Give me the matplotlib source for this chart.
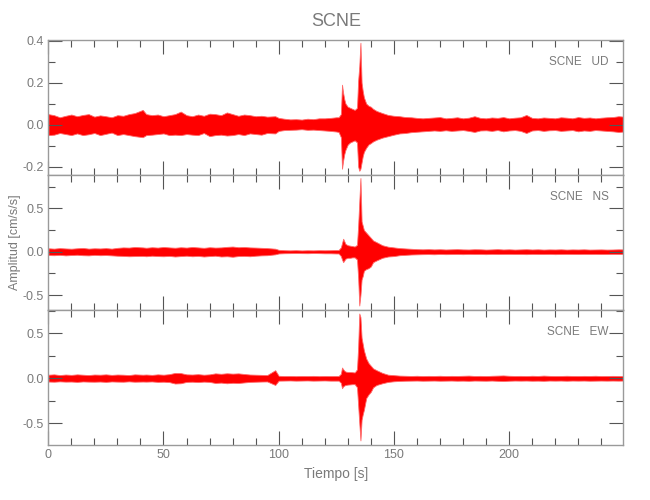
import matplotlib
matplotlib.use("Agg")
import matplotlib.pyplot as plt
from matplotlib.ticker import MultipleLocator, FormatStrFormatter

plt.rcParams['font.family'] = ['Liberation Sans Narrow', 'Liberation Sans', 'DejaVu Sans']

# ---- data: time knots (s) and trace envelopes (cm/s/s) ----
time_s = [0, 2.5, 5, 7.5, 10, 12.5, 15, 17.5, 20, 22.5,
          25, 27.5, 30, 32.5, 35, 37.5, 41, 42.5, 45, 47.5,
          50, 52.5, 55, 57.5, 60, 62.5, 65, 67.5, 70, 72.5,
          75, 77.5, 80, 82.5, 85, 87.5, 90, 92.5, 95, 98.5,
          100, 102.5, 105, 107.5, 110, 112.5, 115, 117.5, 120, 122.5,
          125,
          126, 127, 127.5, 128, 128.5, 129, 130, 131, 132, 133, 134, 134.5,
          135, 135.5, 136, 136.5, 137, 138, 139, 140, 141, 142.5, 145, 147.5,
          150, 152.5, 155, 157.5, 160, 162.5, 165, 167.5, 170, 172.5,
          175, 177.5, 180, 182.5, 185, 187.5, 190, 192.5, 195, 197.5,
          200, 202.5, 205, 207.5, 210, 212.5, 215, 217.5, 220, 222.5,
          225, 227.5, 230, 232.5, 235, 237.5, 240, 242.5, 245, 247.5,
          250]

ud_upper = [0.050, 0.045, 0.035, 0.042, 0.048, 0.040, 0.046, 0.050, 0.038, 0.044,
            0.040, 0.035, 0.045, 0.042, 0.050, 0.055, 0.070, 0.050, 0.045, 0.048,
            0.040, 0.045, 0.050, 0.062, 0.045, 0.040, 0.048, 0.042, 0.052, 0.050,
            0.045, 0.058, 0.050, 0.042, 0.048, 0.045, 0.040, 0.042, 0.038, 0.040,
            0.032, 0.028, 0.025, 0.026, 0.024, 0.028, 0.026, 0.030, 0.030, 0.032,
            0.035,
            0.035, 0.050, 0.190, 0.150, 0.120, 0.100, 0.085, 0.080, 0.075, 0.070, 0.080, 0.210,
            0.280, 0.390, 0.200, 0.160, 0.130, 0.100, 0.090, 0.085, 0.075, 0.065, 0.055, 0.046,
            0.042, 0.040, 0.036, 0.035, 0.032, 0.030, 0.032, 0.034, 0.036, 0.030,
            0.032, 0.035, 0.030, 0.033, 0.040, 0.032, 0.030, 0.034, 0.032, 0.036,
            0.030, 0.033, 0.035, 0.046, 0.032, 0.030, 0.034, 0.032, 0.030, 0.035,
            0.033, 0.030, 0.036, 0.032, 0.034, 0.030, 0.033, 0.035, 0.036, 0.040,
            0.038]
ud_lower = [-0.050, -0.048, -0.040, -0.045, -0.050, -0.042, -0.050, -0.046, -0.040, -0.050,
            -0.044, -0.038, -0.050, -0.045, -0.050, -0.055, -0.060, -0.050, -0.048, -0.045,
            -0.042, -0.050, -0.048, -0.050, -0.045, -0.048, -0.050, -0.040, -0.055, -0.050,
            -0.048, -0.052, -0.050, -0.045, -0.050, -0.042, -0.045, -0.048, -0.040, -0.042,
            -0.030, -0.026, -0.025, -0.024, -0.022, -0.025, -0.024, -0.026, -0.028, -0.030,
            -0.033,
            -0.035, -0.060, -0.210, -0.170, -0.140, -0.120, -0.095, -0.085, -0.080, -0.075, -0.085, -0.200,
            -0.220, -0.210, -0.180, -0.150, -0.130, -0.110, -0.095, -0.088, -0.080, -0.072, -0.062, -0.055,
            -0.048, -0.042, -0.040, -0.036, -0.034, -0.032, -0.030, -0.028, -0.030, -0.027,
            -0.030, -0.028, -0.026, -0.030, -0.035, -0.028, -0.027, -0.030, -0.026, -0.032,
            -0.028, -0.026, -0.030, -0.040, -0.028, -0.026, -0.030, -0.027, -0.026, -0.030,
            -0.028, -0.026, -0.032, -0.028, -0.030, -0.026, -0.028, -0.030, -0.032, -0.035,
            -0.033]

ns_upper = [0.040, 0.036, 0.042, 0.038, 0.035, 0.040, 0.044, 0.036, 0.040, 0.038,
            0.042, 0.036, 0.045, 0.050, 0.048, 0.055, 0.050, 0.046, 0.052, 0.048,
            0.055, 0.050, 0.046, 0.052, 0.048, 0.055, 0.050, 0.045, 0.052, 0.048,
            0.050, 0.056, 0.060, 0.052, 0.055, 0.050, 0.048, 0.045, 0.042, 0.035,
            0.022, 0.018, 0.016, 0.018, 0.015, 0.017, 0.016, 0.018, 0.017, 0.018,
            0.020,
            0.020, 0.050, 0.100, 0.150, 0.120, 0.090, 0.075, 0.070, 0.065, 0.060, 0.080, 0.300,
            0.580, 0.850, 0.350, 0.300, 0.250, 0.220, 0.190, 0.160, 0.130, 0.110, 0.075, 0.058,
            0.050, 0.042, 0.038, 0.034, 0.030, 0.028, 0.030, 0.027, 0.029, 0.026,
            0.028, 0.030, 0.027, 0.026, 0.029, 0.028, 0.025, 0.027, 0.030, 0.026,
            0.028, 0.025, 0.027, 0.029, 0.026, 0.028, 0.025, 0.027, 0.026, 0.028,
            0.025, 0.027, 0.026, 0.028, 0.025, 0.026, 0.027, 0.025, 0.026, 0.028,
            0.027]
ns_lower = [-0.038, -0.040, -0.036, -0.042, -0.038, -0.035, -0.040, -0.042, -0.036, -0.040,
            -0.038, -0.042, -0.046, -0.048, -0.052, -0.050, -0.048, -0.052, -0.046, -0.050,
            -0.052, -0.048, -0.055, -0.050, -0.046, -0.052, -0.048, -0.055, -0.050, -0.046,
            -0.055, -0.052, -0.058, -0.050, -0.048, -0.052, -0.046, -0.042, -0.040, -0.030,
            -0.020, -0.017, -0.016, -0.015, -0.016, -0.017, -0.015, -0.016, -0.018, -0.018,
            -0.020,
            -0.020, -0.050, -0.090, -0.120, -0.100, -0.080, -0.070, -0.070, -0.065, -0.065, -0.090, -0.300,
            -0.620, -0.500, -0.320, -0.280, -0.220, -0.200, -0.190, -0.170, -0.120, -0.100, -0.070, -0.055,
            -0.050, -0.040, -0.036, -0.032, -0.030, -0.028, -0.027, -0.029, -0.026, -0.028,
            -0.027, -0.026, -0.028, -0.025, -0.027, -0.026, -0.028, -0.025, -0.027, -0.026,
            -0.025, -0.027, -0.026, -0.028, -0.025, -0.026, -0.027, -0.025, -0.028, -0.026,
            -0.025, -0.026, -0.027, -0.025, -0.026, -0.025, -0.027, -0.026, -0.025, -0.026,
            -0.027]

ew_upper = [0.040, 0.044, 0.036, 0.042, 0.038, 0.044, 0.040, 0.036, 0.042, 0.040,
            0.044, 0.038, 0.042, 0.040, 0.036, 0.044, 0.040, 0.042, 0.038, 0.044,
            0.040, 0.046, 0.060, 0.058, 0.044, 0.042, 0.046, 0.040, 0.044, 0.055,
            0.050, 0.056, 0.052, 0.055, 0.048, 0.042, 0.040, 0.038, 0.036, 0.090,
            0.028, 0.025, 0.026, 0.024, 0.026, 0.025, 0.027, 0.024, 0.026, 0.025,
            0.026,
            0.026, 0.050, 0.120, 0.100, 0.085, 0.075, 0.070, 0.070, 0.068, 0.065, 0.100, 0.350,
            0.720, 0.680, 0.450, 0.380, 0.310, 0.220, 0.170, 0.140, 0.110, 0.090, 0.060, 0.040,
            0.035, 0.030, 0.028, 0.026, 0.028, 0.025, 0.027, 0.026, 0.028, 0.025,
            0.027, 0.026, 0.028, 0.030, 0.026, 0.027, 0.025, 0.028, 0.030, 0.032,
            0.028, 0.026, 0.027, 0.025, 0.028, 0.026, 0.030, 0.027, 0.025, 0.026,
            0.028, 0.026, 0.025, 0.027, 0.026, 0.028, 0.025, 0.026, 0.027, 0.026,
            0.025]
ew_lower = [-0.036, -0.038, -0.034, -0.037, -0.036, -0.040, -0.035, -0.037, -0.038, -0.036,
            -0.040, -0.035, -0.037, -0.038, -0.034, -0.038, -0.036, -0.037, -0.035, -0.040,
            -0.038, -0.042, -0.058, -0.055, -0.040, -0.038, -0.042, -0.037, -0.040, -0.052,
            -0.048, -0.055, -0.050, -0.052, -0.046, -0.040, -0.038, -0.036, -0.035, -0.074,
            -0.026, -0.025, -0.024, -0.026, -0.025, -0.024, -0.026, -0.025, -0.024, -0.026,
            -0.026,
            -0.026, -0.050, -0.110, -0.090, -0.080, -0.074, -0.070, -0.068, -0.065, -0.065, -0.100, -0.300,
            -0.500, -0.690, -0.460, -0.400, -0.350, -0.220, -0.180, -0.150, -0.100, -0.074, -0.055, -0.040,
            -0.033, -0.029, -0.027, -0.026, -0.025, -0.027, -0.026, -0.025, -0.027, -0.026,
            -0.025, -0.027, -0.026, -0.028, -0.025, -0.026, -0.027, -0.025, -0.028, -0.030,
            -0.027, -0.025, -0.026, -0.025, -0.027, -0.026, -0.028, -0.025, -0.026, -0.025,
            -0.027, -0.025, -0.026, -0.025, -0.027, -0.026, -0.025, -0.026, -0.025, -0.026,
            -0.025]

station = "SCNE"
components = ["UD", "NS", "EW"]
title_text = "SCNE"
xlabel_text = "Tiempo [s]"
ylabel_text = "Amplitud [cm/s/s]"

# ---- layout / style ----
TXT = "#7a7a7a"
SPINE = "#9a9a9a"
TRACE = "#ff0000"

fig = plt.figure(figsize=(6.5, 5.0), dpi=100)
fig.patch.set_facecolor("white")

panels = [
    dict(rect=[48.3/650, 0.65, 575/650, 0.27], ylim=(-0.24, 0.403), major=0.2, minor=0.1,
         up=ud_upper, lo=ud_lower, comp=components[0]),
    dict(rect=[48.3/650, 0.38, 575/650, 0.27], ylim=(-0.672, 0.885), major=0.5, minor=0.25,
         up=ns_upper, lo=ns_lower, comp=components[1]),
    dict(rect=[48.3/650, 0.11, 575/650, 0.27], ylim=(-0.741, 0.759), major=0.5, minor=0.25,
         up=ew_upper, lo=ew_lower, comp=components[2]),
]

axes = []
for i, p in enumerate(panels):
    ax = fig.add_axes(p["rect"])
    ax.fill_between(time_s, p["lo"], p["up"], facecolor=TRACE, edgecolor="#ff6a6a",
                    linewidth=0.6, zorder=1)
    ax.set_xlim(0, 249.6)
    ax.set_ylim(*p["ylim"])
    ax.xaxis.set_major_locator(MultipleLocator(50))
    ax.xaxis.set_minor_locator(MultipleLocator(10))
    ax.yaxis.set_major_locator(MultipleLocator(p["major"]))
    ax.yaxis.set_minor_locator(MultipleLocator(p["minor"]))
    ax.yaxis.set_major_formatter(FormatStrFormatter("%.1f"))
    ax.tick_params(which="both", direction="in", top=True, right=True,
                   color="#555555", labelcolor=TXT, labelsize=9, width=0.8)
    ax.tick_params(which="major", length=10, pad=3)
    ax.tick_params(which="minor", length=5)
    for s in ax.spines.values():
        s.set_color(SPINE)
        s.set_linewidth(1.0)
    if i < 2:
        ax.tick_params(labelbottom=False)
    ax.text(0.975, 0.84, f"{station}   {p['comp']}", transform=ax.transAxes,
            ha="right", va="center", color=TXT, fontsize=8.5)
    axes.append(ax)

axes[0].set_title(title_text, color=TXT, fontsize=13, pad=10)
axes[2].set_xlabel(xlabel_text, color=TXT, fontsize=10, labelpad=4)
fig.text(15/650, 0.516, ylabel_text, rotation=90, ha="center", va="center",
         color=TXT, fontsize=9)

fig.savefig("out.png", dpi=100, facecolor="white")
